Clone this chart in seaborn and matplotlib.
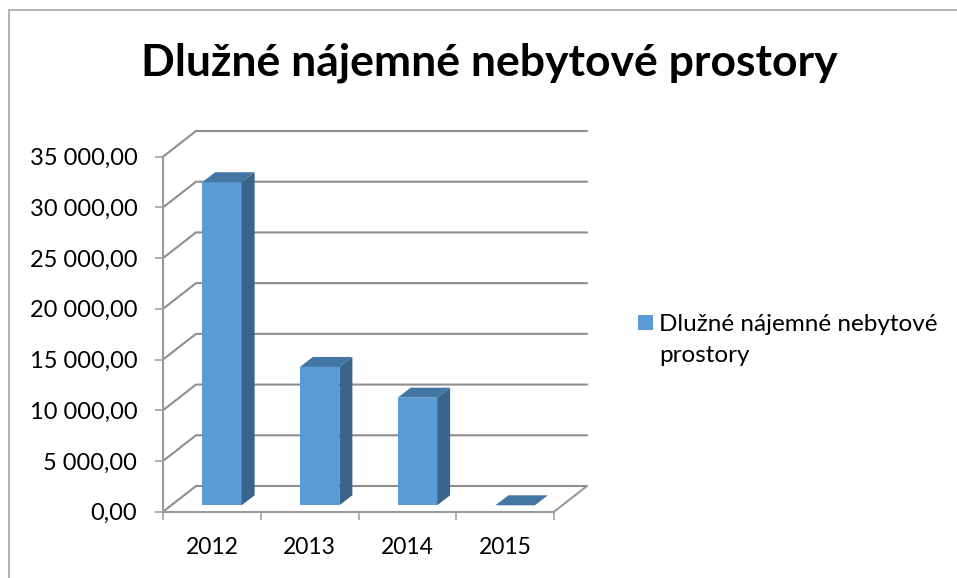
#!/usr/bin/env python

from matplotlib import pyplot as plt
from matplotlib.patches import Polygon, Rectangle
from matplotlib.lines import Line2D
from matplotlib.ticker import FuncFormatter
from matplotlib.transforms import Affine2D, IdentityTransform
import pandas as pd
import seaborn as sns

years = ['2012', '2013', '2014', '2015']
values = [31850, 13640, 10610, 0]
series_name = "Dlužné nájemné nebytové prostory"
legend_label = "Dlužné nájemné nebytové\nprostory"
y_ticks = [0, 5000, 10000, 15000, 20000, 25000, 30000, 35000]

W, H = 957, 578
GREY = '#9a9a9a'
GRID = '#8e8e8e'
FRONT = '#5b9bd5'
TOP = '#4376a3'
SIDE = '#3a6489'

sns.set_theme(style="white")
plt.rcParams['font.family'] = ['Lato', 'DejaVu Sans']

fig = plt.figure(figsize=(W / 100, H / 100), dpi=100)
# front plane of the fake 3d box, in pixels
left, right, top, bottom = 163, 554, 156.7, 511.7
ax = fig.add_axes([left / W, 1 - bottom / H, (right - left) / W, (bottom - top) / H])
ax.patch.set_visible(False)

df = pd.DataFrame({"year": years, "value": values})
sns.barplot(data=df, x="year", y="value", color=FRONT, saturation=1, width=0.404,
            linewidth=0, label=legend_label, ax=ax, zorder=4)
ax.set_xlim(-0.5, 3.5)
ax.set_ylim(0, 35000)
ax.set_xlabel("")
ax.set_ylabel("")
ax.set_yticks(y_ticks)
ax.yaxis.set_major_formatter(FuncFormatter(lambda v, p: f"{v:,.2f}".replace(",", " ").replace(".", ",")))
ax.set_xticks([-0.5, 0.5, 1.5, 2.5, 3.5], minor=True)
ax.tick_params(axis='x', which='major', length=0, pad=18, labelsize=16.5, colors='black')
ax.tick_params(axis='x', which='minor', length=6, width=1.1, color=GREY, bottom=True)
ax.tick_params(axis='y', length=6, width=1.1, color=GREY, left=True, pad=12.5, labelsize=17, labelcolor='black')
for name in ['top', 'right']:
    ax.spines[name].set_visible(False)
for name in ['left', 'bottom']:
    ax.spines[name].set_color(GREY)
    ax.spines[name].set_linewidth(1.5)

# back wall and floor, taken from the y scale
px = IdentityTransform()
dx, dy = 33, 25.7
x0 = ax.transData.transform((-0.5, 0))[0]
x1 = ax.transData.transform((3.5, 0))[0]
for tick in y_ticks:
    y = ax.transData.transform((0, tick))[1]
    ax.add_line(Line2D([x0, x0 + dx, x1 + dx], [y, y + dy, y + dy], color=GRID, lw=1.5,
                       transform=px, clip_on=False, zorder=1))
y = ax.transData.transform((0, 0))[1]
ax.add_line(Line2D([x1, x1 + dx], [y, y + dy], color=GREY, lw=1.5, transform=px, clip_on=False, zorder=1))

# bars stand inside the box: move them back and add the depth faces
shift_x, shift_y = 10, 6.4
bar_dx, bar_dy = 13, 10
for bar in ax.patches:
    a = ax.transData.transform((bar.get_x(), bar.get_y()))
    b = ax.transData.transform((bar.get_x() + bar.get_width(), bar.get_y() + bar.get_height()))
    xa, ya = a[0] + shift_x, a[1] + shift_y
    xb, yb = b[0] + shift_x, b[1] + shift_y
    bar.set_transform(ax.transData + Affine2D().translate(shift_x, shift_y))
    bar.set_clip_on(False)
    ax.add_artist(Polygon([(xa, yb), (xb, yb), (xb + bar_dx, yb + bar_dy), (xa + bar_dx, yb + bar_dy)],
                          closed=True, fc=TOP, ec='none', transform=px, clip_on=False, zorder=4))
    ax.add_artist(Polygon([(xb, ya), (xb, yb), (xb + bar_dx, yb + bar_dy), (xb + bar_dx, ya + bar_dy)],
                          closed=True, fc=SIDE, ec='none', transform=px, clip_on=False, zorder=4))

leg = ax.legend(loc='center left', bbox_to_anchor=(638 / W, 1 - 340 / H), bbox_transform=fig.transFigure,
                frameon=False, fontsize=17.5, handlelength=0.62, handleheight=0.62, handletextpad=0.26,
                borderpad=0, borderaxespad=0)
for t in leg.get_texts():
    t.set_color('black')
    t.set_linespacing(1.62)
# square sits next to the first line of the label
for p in leg.get_patches():
    p.set_y(p.get_y() + 12.5)

fig.text(489 / W, 1 - 63 / H, series_name, ha='center', va='center', fontsize=32, fontweight='bold', color='black')

# chart border, its right and bottom edges fall off the picture
fig.add_artist(Rectangle((9, -20), W + 40, H - 10 + 20, fc='none', ec='#a6a6a6', lw=1.2, transform=px))

fig.savefig("out.png", dpi=100)
